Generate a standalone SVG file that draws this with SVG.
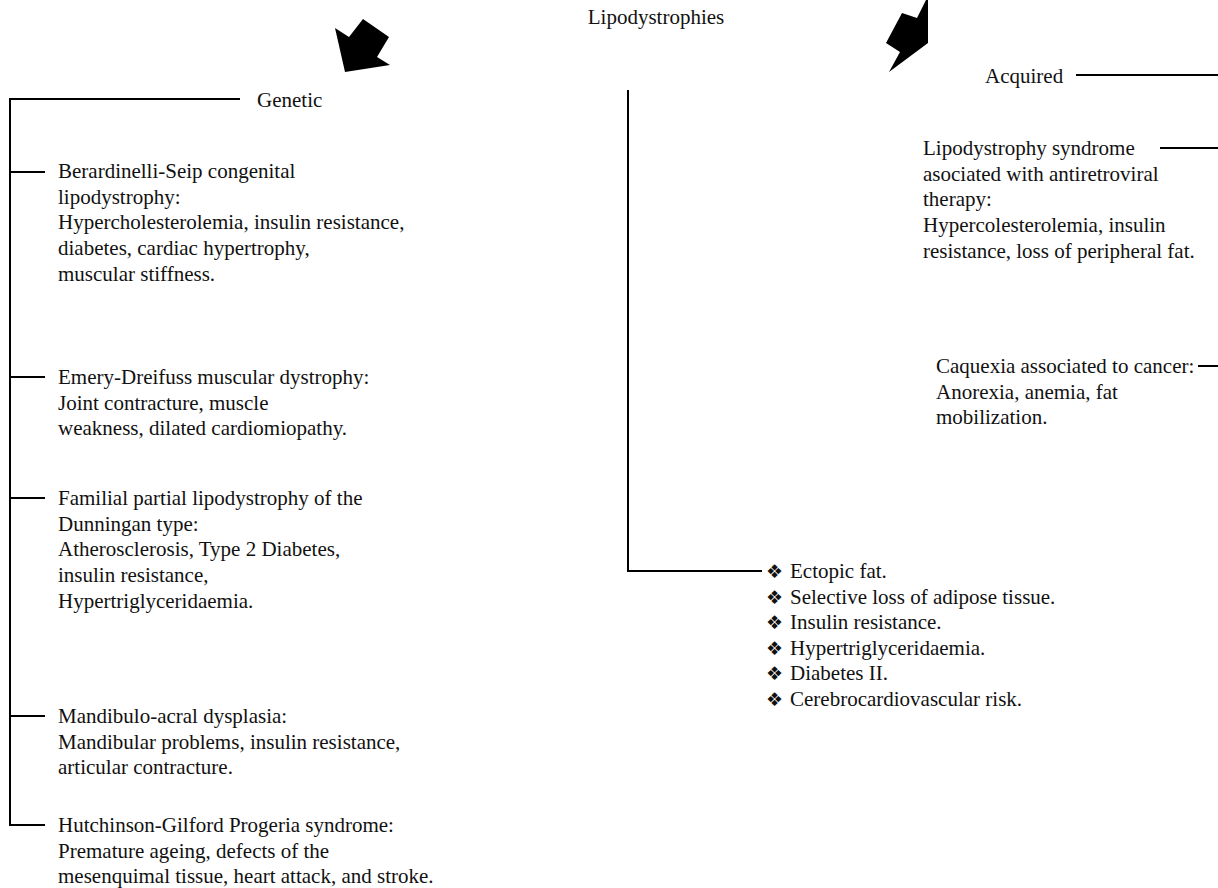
<svg xmlns="http://www.w3.org/2000/svg" width="1218" height="888" viewBox="0 0 1218 888">
<style>
text{font-family:"Liberation Serif","Times New Roman",serif;font-size:21px;fill:#111}
.b{font-family:"DejaVu Sans",sans-serif;font-size:19px}
line,polyline{stroke:#000;stroke-width:2;fill:none}
.arr{fill:#000;stroke:none}
</style>
<rect width="1218" height="888" fill="#fff"/>
<g id="connectors">
<polygon class="arr" points="335,28 349,37 363,19 389,37 377,57 390,65 345,72"/>
<polygon class="arr" points="926,0 917,18 902,13 886,43 900,52 889,72 928,43 928,0"/>
<polyline points="240,99 10,99 10,825 45,825"/>
<line x1="10" y1="172" x2="45" y2="172"/>
<line x1="10" y1="377" x2="45" y2="377"/>
<line x1="10" y1="498" x2="45" y2="498"/>
<line x1="10" y1="716" x2="45" y2="716"/>
<polyline points="628,90 628,571 762,571"/>
<line x1="1076" y1="75" x2="1218" y2="75"/>
<line x1="1160" y1="148" x2="1218" y2="148"/>
<line x1="1198" y1="366" x2="1218" y2="366"/>
</g>
<g id="root"><text x="656" y="24" text-anchor="middle">Lipodystrophies</text></g>
<g id="genetic"><text x="257" y="107">Genetic</text></g>
<g id="acquired"><text x="985" y="83">Acquired</text></g>
<g id="berardinelli"><text x="58" y="178">Berardinelli-Seip congenital<tspan x="58" dy="25.7">lipodystrophy:</tspan><tspan x="58" dy="25.7">Hypercholesterolemia, insulin resistance,</tspan><tspan x="58" dy="25.7">diabetes, cardiac hypertrophy,</tspan><tspan x="58" dy="25.7">muscular stiffness.</tspan></text></g>
<g id="emery"><text x="58" y="384">Emery-Dreifuss muscular dystrophy:<tspan x="58" dy="25.7">Joint contracture, muscle</tspan><tspan x="58" dy="25.7">weakness, dilated cardiomiopathy.</tspan></text></g>
<g id="familial"><text x="58" y="505">Familial partial lipodystrophy of the<tspan x="58" dy="25.7">Dunningan type:</tspan><tspan x="58" dy="25.7">Atherosclerosis, Type 2 Diabetes,</tspan><tspan x="58" dy="25.7">insulin resistance,</tspan><tspan x="58" dy="25.7">Hypertriglyceridaemia.</tspan></text></g>
<g id="mandibulo"><text x="58" y="723">Mandibulo-acral dysplasia:<tspan x="58" dy="25.7">Mandibular problems, insulin resistance,</tspan><tspan x="58" dy="25.7">articular contracture.</tspan></text></g>
<g id="hutchinson"><text x="58" y="832">Hutchinson-Gilford Progeria syndrome:<tspan x="58" dy="25.7">Premature ageing, defects of the</tspan><tspan x="58" dy="25.7">mesenquimal tissue, heart attack, and stroke.</tspan></text></g>
<g id="antiretroviral"><text x="923" y="155">Lipodystrophy syndrome<tspan x="923" dy="25.7">asociated with antiretroviral</tspan><tspan x="923" dy="25.7">therapy:</tspan><tspan x="923" dy="25.7">Hypercolesterolemia, insulin</tspan><tspan x="923" dy="25.7">resistance, loss of peripheral fat.</tspan></text></g>
<g id="caquexia"><text x="936" y="373">Caquexia associated to cancer:<tspan x="936" dy="25.7">Anorexia, anemia, fat</tspan><tspan x="936" dy="25.7">mobilization.</tspan></text></g>
<g id="features">
<text class="b" x="766" y="578">❖</text><text x="790" y="578">Ectopic fat.</text>
<text class="b" x="766" y="603.5">❖</text><text x="790" y="603.5">Selective loss of adipose tissue.</text>
<text class="b" x="766" y="629">❖</text><text x="790" y="629">Insulin resistance.</text>
<text class="b" x="766" y="654.5">❖</text><text x="790" y="654.5">Hypertriglyceridaemia.</text>
<text class="b" x="766" y="680">❖</text><text x="790" y="680">Diabetes II.</text>
<text class="b" x="766" y="705.5">❖</text><text x="790" y="705.5">Cerebrocardiovascular risk.</text>
</g>
</svg>
